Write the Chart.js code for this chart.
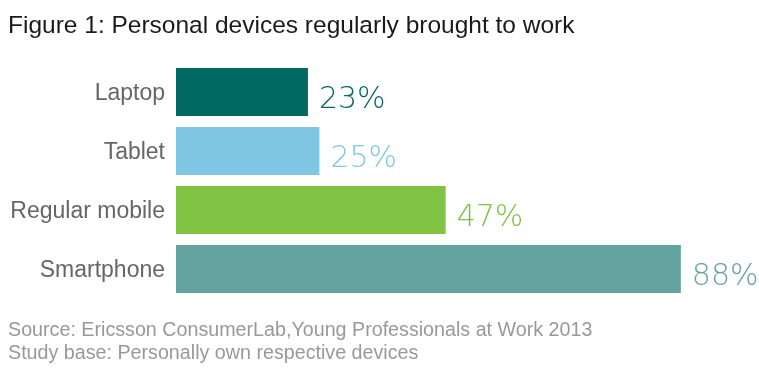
<!DOCTYPE html>
<html>
<head>
<meta charset="utf-8">
<script src="https://cdn.jsdelivr.net/npm/chart.js@4"></script>
<style>
html,body{margin:0;padding:0;background:#fff;}
canvas{display:block;}
</style>
</head>
<body>
<canvas id="c" width="759" height="374"></canvas>
<script>
const titleText = "Figure 1: Personal devices regularly brought to work";
const footerLines = [
  "Source: Ericsson ConsumerLab,Young Professionals at Work 2013",
  "Study base: Personally own respective devices"
];
const categories = ["Laptop", "Tablet", "Regular mobile", "Smartphone"];
const values = [23, 25, 47, 88];
const valueLabels = ["23%", "25%", "47%", "88%"];
const barColors = ["#006962", "#7FC6E4", "#80C342", "#64A49F"];

const textPlugin = {
  id: "texts",
  afterDraw(chart) {
    const ctx = chart.ctx;
    ctx.save();
    ctx.textAlign = "left";
    ctx.textBaseline = "alphabetic";
    ctx.fillStyle = "#1a1a1a";
    ctx.font = "24.5px 'Liberation Sans', Arial, sans-serif";
    ctx.fillText(titleText, 8, 33);
    ctx.fillStyle = "#98989d";
    ctx.font = "19.7px 'Liberation Sans', Arial, sans-serif";
    ctx.fillText(footerLines[0], 8, 336);
    ctx.fillText(footerLines[1], 8, 359);
    // value labels
    const meta = chart.getDatasetMeta(0);
    ctx.font = "200 30px 'DejaVu Sans', sans-serif";
    meta.data.forEach((bar, i) => {
      ctx.fillStyle = barColors[i];
      ctx.fillText(valueLabels[i], bar.x + 11, bar.y + 15.5);
    });
    ctx.restore();
  }
};

new Chart(document.getElementById("c"), {
  type: "bar",
  data: {
    labels: categories,
    datasets: [{
      data: values,
      backgroundColor: barColors,
      borderWidth: 0,
      barPercentage: 0.81,
      categoryPercentage: 1
    }]
  },
  options: {
    indexAxis: "y",
    responsive: false,
    devicePixelRatio: 1,
    animation: false,
    layout: { padding: { left: 0, right: 9.3, top: 62.5, bottom: 75.5 } },
    plugins: {
      legend: { display: false },
      tooltip: { enabled: false },
      title: { display: false }
    },
    scales: {
      x: { display: false, min: 0, max: 100 },
      y: {
        afterFit(scale) { scale.width = 176; },
        grid: { display: false, drawTicks: false },
        border: { display: false },
        ticks: {
          padding: 11,
          labelOffset: 2,
          color: "#666666",
          font: { family: "'Liberation Sans', Arial, sans-serif", size: 23 }
        }
      }
    }
  },
  plugins: [textPlugin]
});
</script>
</body>
</html>
